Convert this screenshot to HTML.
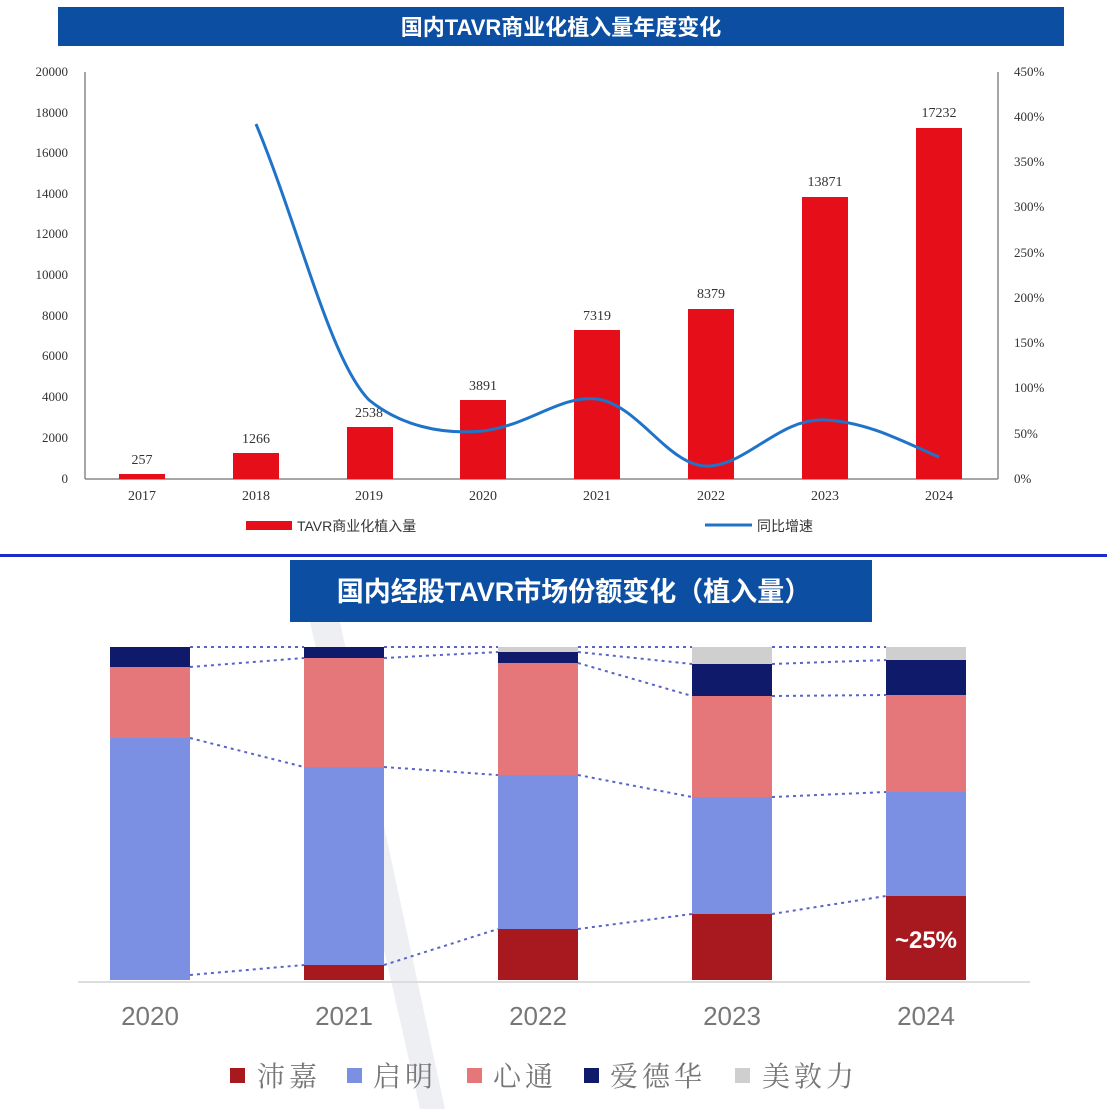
<!DOCTYPE html>
<html><head><meta charset="utf-8"><style>
html,body{margin:0;padding:0;background:#fff;}
svg{display:block}
text{font-family:"Liberation Serif","Noto Serif CJK SC",serif;}
.cjk, .cjk text{font-family:"Liberation Sans","Noto Sans CJK SC",sans-serif;}
</style></head><body>
<svg width="1107" height="1109" viewBox="0 0 1107 1109" xmlns="http://www.w3.org/2000/svg">
<rect width="1107" height="1109" fill="#fff"/>
<rect x="58" y="7" width="1006" height="39" fill="#0B4EA2"/>
<text x="561" y="35" class="cjk" font-size="22" font-weight="bold" fill="#fff" text-anchor="middle">国内TAVR商业化植入量年度变化</text>
<g stroke="#888" stroke-width="1.5" fill="none">
<line x1="85" y1="72" x2="85" y2="479"/>
<line x1="85" y1="479" x2="998" y2="479"/>
<line x1="998" y1="72" x2="998" y2="479"/>
</g>
<g font-size="13" fill="#333" text-anchor="end">
<text x="68" y="76">20000</text><text x="68" y="117">18000</text><text x="68" y="157">16000</text>
<text x="68" y="198">14000</text><text x="68" y="238">12000</text><text x="68" y="279">10000</text>
<text x="68" y="320">8000</text><text x="68" y="360">6000</text><text x="68" y="401">4000</text>
<text x="68" y="442">2000</text><text x="68" y="483">0</text>
</g>
<g font-size="13" fill="#333">
<text x="1014" y="76">450%</text><text x="1014" y="121">400%</text><text x="1014" y="166">350%</text>
<text x="1014" y="211">300%</text><text x="1014" y="257">250%</text><text x="1014" y="302">200%</text>
<text x="1014" y="347">150%</text><text x="1014" y="392">100%</text><text x="1014" y="438">50%</text>
<text x="1014" y="483">0%</text>
</g>
<g fill="#E60F19">
<rect x="119" y="474" width="46" height="5"/>
<rect x="233" y="453" width="46" height="26"/>
<rect x="347" y="427" width="46" height="52"/>
<rect x="460" y="400" width="46" height="79"/>
<rect x="574" y="330" width="46" height="149"/>
<rect x="688" y="309" width="46" height="170"/>
<rect x="802" y="197" width="46" height="282"/>
<rect x="916" y="128" width="46" height="351"/>
</g>
<g font-size="14" fill="#333" text-anchor="middle">
<text x="142" y="464">257</text><text x="256" y="443">1266</text><text x="369" y="417">2538</text>
<text x="483" y="390">3891</text><text x="597" y="320">7319</text><text x="711" y="298">8379</text>
<text x="825" y="186">13871</text><text x="939" y="117">17232</text>
</g>
<g font-size="14" fill="#333" text-anchor="middle">
<text x="142" y="500">2017</text><text x="256" y="500">2018</text><text x="369" y="500">2019</text>
<text x="483" y="500">2020</text><text x="597" y="500">2021</text><text x="711" y="500">2022</text>
<text x="825" y="500">2023</text><text x="939" y="500">2024</text>
</g>
<path d="M256,124 C300,230 330,360 369,400 C400,425 440,435 483,431 C530,425 560,395 597,399 C640,405 670,470 711,466 C750,462 780,418 825,420 C870,422 910,445 939,457" fill="none" stroke="#1F73C8" stroke-width="3"/>
<rect x="246" y="521" width="46" height="9" fill="#E60F19"/>
<text x="297" y="531" class="cjk" font-size="14" fill="#333">TAVR商业化植入量</text>
<line x1="705" y1="525" x2="752" y2="525" stroke="#1F73C8" stroke-width="3"/>
<text x="757" y="531" class="cjk" font-size="14" fill="#333">同比增速</text>
<rect x="0" y="554" width="1107" height="3" fill="#1A2BD0"/>
<polygon points="310,622 340,622 445,1109 420,1109" fill="#EEEFF3"/>
<rect x="290" y="560" width="582" height="62" fill="#0B4EA2"/>
<text x="574" y="601" class="cjk" font-size="27" font-weight="bold" fill="#fff" text-anchor="middle">国内经股TAVR市场份额变化（植入量）</text>
<line x1="78" y1="982" x2="1030" y2="982" stroke="#ddd" stroke-width="2"/>
<g>
<rect x="110" y="647" width="80" height="20" fill="#0F1A6B"/>
<rect x="110" y="667" width="80" height="71" fill="#E5767A"/>
<rect x="110" y="738" width="80" height="242" fill="#7B8FE3"/>
<rect x="304" y="647" width="80" height="11" fill="#0F1A6B"/>
<rect x="304" y="658" width="80" height="109" fill="#E5767A"/>
<rect x="304" y="767" width="80" height="198" fill="#7B8FE3"/>
<rect x="304" y="965" width="80" height="15" fill="#A8191F"/>
<rect x="498" y="647" width="80" height="5" fill="#CFCFCF"/>
<rect x="498" y="652" width="80" height="11" fill="#0F1A6B"/>
<rect x="498" y="663" width="80" height="112" fill="#E5767A"/>
<rect x="498" y="775" width="80" height="154" fill="#7B8FE3"/>
<rect x="498" y="929" width="80" height="51" fill="#A8191F"/>
<rect x="692" y="647" width="80" height="17" fill="#CFCFCF"/>
<rect x="692" y="664" width="80" height="32" fill="#0F1A6B"/>
<rect x="692" y="696" width="80" height="101" fill="#E5767A"/>
<rect x="692" y="797" width="80" height="117" fill="#7B8FE3"/>
<rect x="692" y="914" width="80" height="66" fill="#A8191F"/>
<rect x="886" y="647" width="80" height="13" fill="#CFCFCF"/>
<rect x="886" y="660" width="80" height="35" fill="#0F1A6B"/>
<rect x="886" y="695" width="80" height="97" fill="#E5767A"/>
<rect x="886" y="792" width="80" height="104" fill="#7B8FE3"/>
<rect x="886" y="896" width="80" height="84" fill="#A8191F"/>
</g>
<text x="926" y="948" class="cjk" font-size="24" font-weight="bold" fill="#fff" text-anchor="middle">~25%</text>
<g stroke="#5A64C8" stroke-width="2" stroke-dasharray="3,4" fill="none">
<line x1="190" y1="647" x2="304" y2="647"/><line x1="384" y1="647" x2="498" y2="647"/>
<line x1="578" y1="647" x2="692" y2="647"/><line x1="772" y1="647" x2="886" y2="647"/>
<line x1="190" y1="667" x2="304" y2="658"/><line x1="384" y1="658" x2="498" y2="652"/>
<line x1="578" y1="652" x2="692" y2="664"/><line x1="772" y1="664" x2="886" y2="660"/>
<line x1="578" y1="663" x2="692" y2="696"/><line x1="772" y1="696" x2="886" y2="695"/>
<line x1="190" y1="738" x2="304" y2="767"/><line x1="384" y1="767" x2="498" y2="775"/>
<line x1="578" y1="775" x2="692" y2="797"/><line x1="772" y1="797" x2="886" y2="792"/>
<line x1="190" y1="975" x2="304" y2="965"/><line x1="384" y1="965" x2="498" y2="929"/>
<line x1="578" y1="929" x2="692" y2="914"/><line x1="772" y1="914" x2="886" y2="896"/>
</g>
<g class="cjk" font-size="26" fill="#777" text-anchor="middle">
<text x="150" y="1025">2020</text><text x="344" y="1025">2021</text><text x="538" y="1025">2022</text>
<text x="732" y="1025">2023</text><text x="926" y="1025">2024</text>
</g>
<g font-size="28" fill="#777">
<rect x="230" y="1068" width="15" height="15" fill="#A8191F"/><text x="257" y="1086" letter-spacing="4">沛嘉</text>
<rect x="347" y="1068" width="15" height="15" fill="#7B8FE3"/><text x="373" y="1086" letter-spacing="4">启明</text>
<rect x="467" y="1068" width="15" height="15" fill="#E5767A"/><text x="493" y="1086" letter-spacing="4">心通</text>
<rect x="584" y="1068" width="15" height="15" fill="#0F1A6B"/><text x="610" y="1086" letter-spacing="4">爱德华</text>
<rect x="735" y="1068" width="15" height="15" fill="#CFCFCF"/><text x="762" y="1086" letter-spacing="4">美敦力</text>
</g>
</svg>
</body></html>
